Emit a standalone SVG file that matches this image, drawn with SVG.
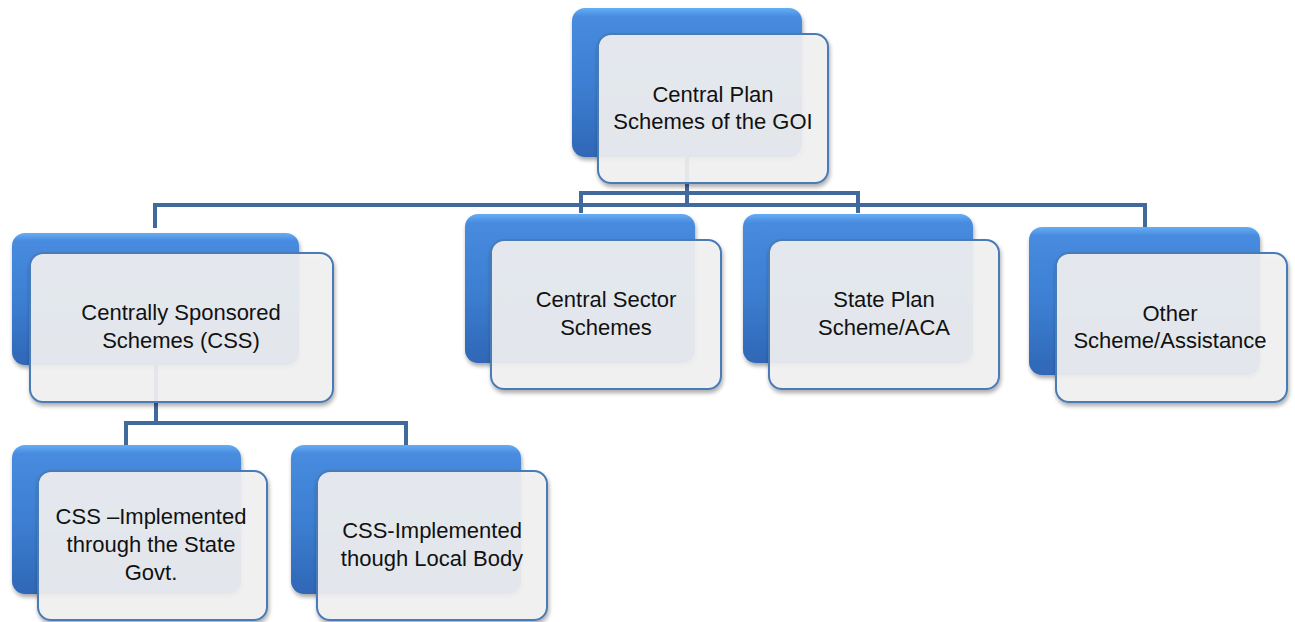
<svg xmlns="http://www.w3.org/2000/svg" width="1295" height="622" viewBox="0 0 1295 622">
  <defs>
    <linearGradient id="blueFill" x1="0" y1="0" x2="0" y2="1">
      <stop offset="0" stop-color="#66adf4"/>
      <stop offset="0.06" stop-color="#478bdf"/>
      <stop offset="0.5" stop-color="#3d7fd2"/>
      <stop offset="1" stop-color="#2f67b6"/>
    </linearGradient>
    <filter id="shadow" x="-10%" y="-10%" width="125%" height="130%">
      <feGaussianBlur in="SourceAlpha" stdDeviation="2"/>
      <feOffset dx="1" dy="3" result="b"/>
      <feComponentTransfer><feFuncA type="linear" slope="0.35"/></feComponentTransfer>
      <feMerge><feMergeNode/><feMergeNode in="SourceGraphic"/></feMerge>
    </filter>
  </defs>
  <style>
    .back { fill: url(#blueFill); filter: url(#shadow); }
    .front { fill: #f3f3f3; fill-opacity: 0.9; stroke: #4a7bb7; stroke-width: 2; filter: url(#shadow); }
    .wire { fill: none; stroke: #41699c; stroke-width: 4; }
    .label { font-family: "Liberation Sans", Arial, sans-serif; font-size: 22px; fill: #111; text-anchor: middle; }
  </style>

  <!-- connectors (drawn first so the translucent cards veil them) -->
  <g id="connectors">
    <path class="wire" d="M687 150 V205"/>
    <path class="wire" d="M581 213 V193 H858 V213"/>
    <path class="wire" d="M155 228 V205 H1145 V228"/>
    <path class="wire" d="M156 360 V423"/>
    <path class="wire" d="M126 446 V423 H406 V446"/>
  </g>

  <g id="node-central-plan">
    <rect class="back" x="572" y="8" width="230" height="149" rx="13"/>
    <rect class="front" x="598" y="34" width="230" height="149" rx="13"/>
    <text class="label" x="713" y="102">Central Plan</text>
    <text class="label" x="713" y="129">Schemes of the GOI</text>
  </g>

  <g id="node-css">
    <rect class="back" x="12" y="233" width="287" height="132" rx="13"/>
    <rect class="front" x="30" y="253" width="303" height="149" rx="13"/>
    <text class="label" x="181" y="320">Centrally Sponsored</text>
    <text class="label" x="181" y="348">Schemes (CSS)</text>
  </g>

  <g id="node-central-sector">
    <rect class="back" x="465" y="214" width="230" height="149" rx="13"/>
    <rect class="front" x="491" y="240" width="230" height="149" rx="13"/>
    <text class="label" x="606" y="307">Central Sector</text>
    <text class="label" x="606" y="335">Schemes</text>
  </g>

  <g id="node-state-plan">
    <rect class="back" x="743" y="214" width="230" height="149" rx="13"/>
    <rect class="front" x="769" y="240" width="230" height="149" rx="13"/>
    <text class="label" x="884" y="307">State Plan</text>
    <text class="label" x="884" y="335">Scheme/ACA</text>
  </g>

  <g id="node-other">
    <rect class="back" x="1029" y="227" width="231" height="148" rx="13"/>
    <rect class="front" x="1056" y="253" width="231" height="149" rx="13"/>
    <text class="label" x="1170" y="321">Other</text>
    <text class="label" x="1170" y="348">Scheme/Assistance</text>
  </g>

  <g id="node-css-state">
    <rect class="back" x="12" y="445" width="229" height="149" rx="13"/>
    <rect class="front" x="38" y="471" width="229" height="149" rx="13"/>
    <text class="label" x="151" y="524">CSS –Implemented</text>
    <text class="label" x="151" y="552">through the State</text>
    <text class="label" x="151" y="580">Govt.</text>
  </g>

  <g id="node-css-local">
    <rect class="back" x="291" y="445" width="230" height="149" rx="13"/>
    <rect class="front" x="317" y="471" width="230" height="149" rx="13"/>
    <text class="label" x="432" y="538">CSS-Implemented</text>
    <text class="label" x="432" y="566">though Local Body</text>
  </g>
</svg>
